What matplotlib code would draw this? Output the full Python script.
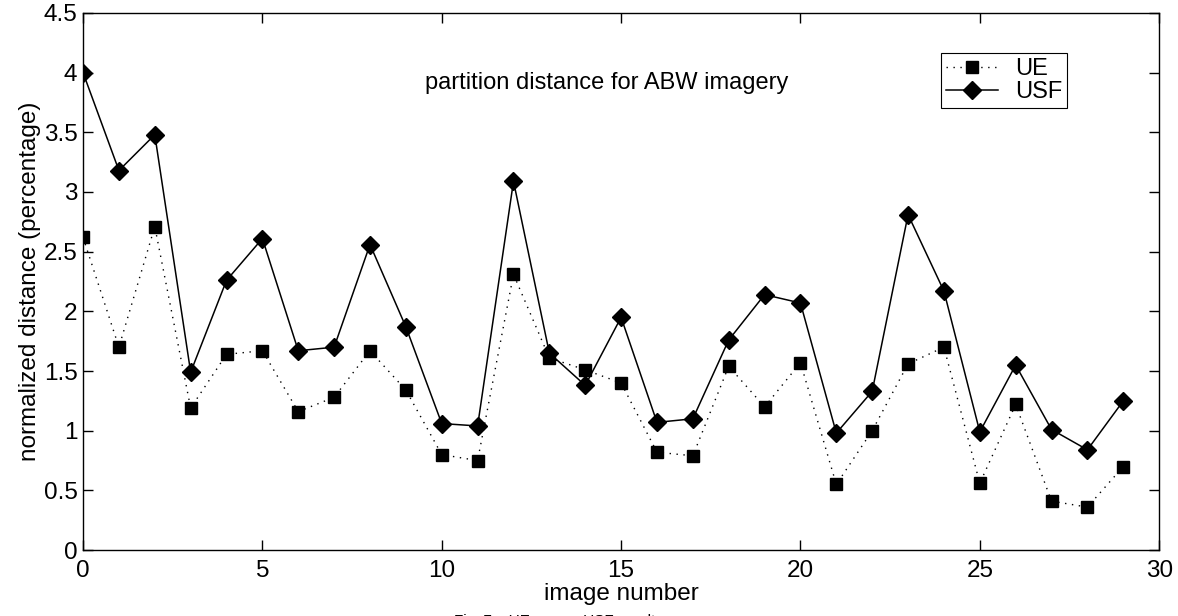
import matplotlib
matplotlib.use("Agg")
import matplotlib.pyplot as plt
import numpy as np

plt.rcParams['font.family'] = ['Liberation Sans', 'DejaVu Sans']

# image index and distances (percent)
image_number = np.arange(30)
ue = [2.62, 1.70, 2.71, 1.19, 1.64, 1.67, 1.16, 1.28, 1.67, 1.34,
      0.80, 0.75, 2.31, 1.61, 1.51, 1.40, 0.82, 0.79, 1.54, 1.20,
      1.57, 0.55, 1.00, 1.56, 1.70, 0.56, 1.22, 0.41, 0.36, 0.70]
usf = [4.00, 3.18, 3.48, 1.49, 2.26, 2.61, 1.67, 1.70, 2.56, 1.87,
       1.06, 1.04, 3.09, 1.65, 1.38, 1.95, 1.07, 1.10, 1.76, 2.14,
       2.07, 0.98, 1.33, 2.81, 2.17, 0.99, 1.55, 1.01, 0.84, 1.25]

fig = plt.figure(figsize=(11.78, 6.16), dpi=100)
ax = fig.add_axes([0.0705, 0.107, 0.9135, 0.872])

ax.plot(image_number, ue, color='black', linestyle=(0, (1, 4)), linewidth=1,
        marker='s', markersize=9, label='UE')
ax.plot(image_number, usf, color='black', linestyle='-', linewidth=1.1,
        marker='D', markersize=9, label='USF')

ax.set_xlim(0, 30)
ax.set_ylim(0, 4.5)
ax.set_xticks(np.arange(0, 31, 5))
ax.set_yticks(np.arange(0, 4.51, 0.5))
ax.set_yticklabels(['0', '0.5', '1', '1.5', '2', '2.5', '3', '3.5', '4', '4.5'])
ax.tick_params(direction='in', top=True, right=True, length=7, width=1,
               labelsize=17.5)
ax.tick_params(axis='y', pad=4)
ax.tick_params(axis='x', pad=7)
for s in ax.spines.values():
    s.set_linewidth(1)

ax.set_xlabel('image number', fontsize=17.5, labelpad=1)
ax.set_ylabel('normalized distance (percentage)', fontsize=17.5, labelpad=2)

ax.text(14.6, 3.91, 'partition distance for ABW imagery', fontsize=17,
        ha='center', va='center')

leg = ax.legend(loc='upper right', bbox_to_anchor=(0.914, 0.925), fontsize=17,
                fancybox=False, edgecolor='black', framealpha=1,
                handlelength=2.2, borderpad=0.2, labelspacing=0.05,
                handletextpad=0.7, borderaxespad=0)
leg.get_frame().set_linewidth(0.8)

fig.text(0.385, 0.0035, 'Fig. 7.   UE versus USF results', fontsize=11,
         ha='left', va='top')

fig.savefig('out.png', dpi=100)
